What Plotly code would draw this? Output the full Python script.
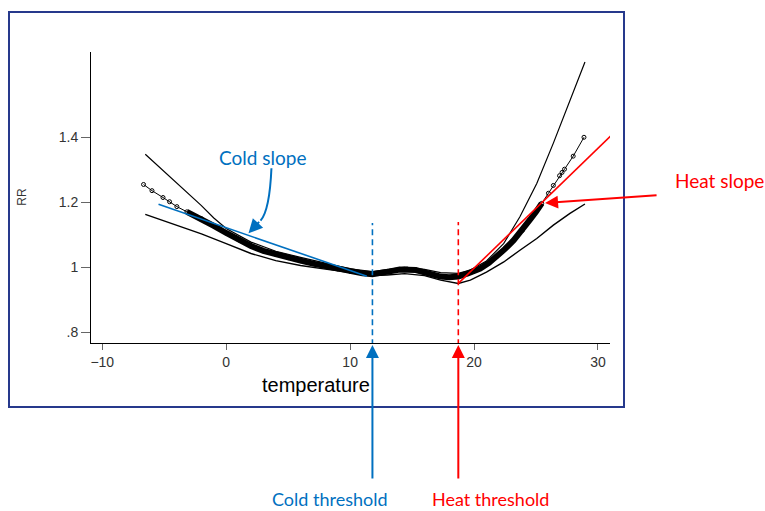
import plotly.graph_objects as go

# ---------------- data ----------------
central_t = [-6.67, -5.99, -5.1, -4.57, -3.98, -3.17, -2.0, -1.0, 0.0, 1.0, 2.0, 3.0, 4.0, 5.0, 6.0,
             7.0, 8.0, 9.0, 10.0, 11.0, 11.8, 12.5, 13.2, 14.0, 14.6, 15.3, 16.0, 16.7, 17.3, 18.0,
             18.73, 19.5, 20.5, 21.2, 21.8, 22.5, 23.2, 23.9, 24.5, 25.0, 25.46, 26.0, 26.4,
             26.9, 27.1, 27.3, 28.0, 28.87]
central_rr = [1.255, 1.236, 1.215, 1.202, 1.187, 1.171, 1.150, 1.128, 1.106, 1.085, 1.066, 1.051, 1.040,
              1.030, 1.021, 1.012, 1.004, 0.996, 0.988, 0.982, 0.979, 0.982, 0.988, 0.994, 0.995,
              0.992, 0.985, 0.977, 0.972, 0.970, 0.972, 0.982, 0.997, 1.014, 1.033, 1.057, 1.084,
              1.114, 1.146, 1.171, 1.197, 1.228, 1.252, 1.282, 1.292, 1.302, 1.342, 1.400]

upper_t = [-6.53, -5.0, -3.5, -2.0, -1.0, 0.0, 2.0, 4.0, 6.0, 8.0, 10.0, 11.8, 13.0, 14.4, 16.0,
           17.3, 18.73, 19.7, 21.0, 22.4, 23.7, 25.06, 26.4, 27.74, 28.95]
upper_rr = [1.348, 1.295, 1.245, 1.190, 1.152, 1.120, 1.078, 1.050, 1.031, 1.013, 0.996, 0.987, 0.993,
            1.001, 0.994, 0.984, 0.982, 0.992, 1.020, 1.074, 1.156, 1.258, 1.382, 1.515, 1.631]

lower_t = [-6.53, -4.0, -2.0, 0.0, 2.0, 4.0, 6.0, 8.0, 10.0, 11.8, 13.0, 14.4, 16.0, 17.3, 18.73,
           19.7, 21.0, 22.4, 23.7, 25.06, 26.4, 27.74, 28.95]
lower_rr = [1.163, 1.130, 1.103, 1.073, 1.043, 1.021, 1.006, 0.995, 0.985, 0.975, 0.977, 0.981, 0.975,
            0.961, 0.951, 0.961, 0.986, 1.017, 1.053, 1.089, 1.130, 1.166, 1.195]

cold_slope_t = [-5.46, 11.35]
cold_slope_rr = [1.194, 0.973]
heat_slope_t = [18.73, 31.05]
heat_slope_rr = [0.951, 1.405]

cold_threshold = 11.8
heat_threshold = 18.73
threshold_line_top = [1.137, 1.140]

x_ticks = [-10, 0, 10, 20, 30]
y_ticks = [0.8, 1.0, 1.2, 1.4]
y_ticktext = [".8", "1", "1.2", "1.4"]

BLUE = "#0070C0"
RED = "#FF0000"
NAVY = "#26398C"

fig = go.Figure()

fig.add_trace(go.Scatter(x=upper_t, y=upper_rr, mode="lines",
                         line=dict(color="black", width=1.2), hoverinfo="skip"))
fig.add_trace(go.Scatter(x=lower_t, y=lower_rr, mode="lines",
                         line=dict(color="black", width=1.4), hoverinfo="skip"))
# thick band where observations are dense
i0 = central_t.index(-3.17)
i1 = central_t.index(25.46)
fig.add_trace(go.Scatter(x=central_t[i0:i1 + 1], y=central_rr[i0:i1 + 1], mode="lines",
                         line=dict(color="black", width=6), hoverinfo="skip"))
fig.add_trace(go.Scatter(x=central_t, y=central_rr, mode="lines+markers",
                         line=dict(color="black", width=1),
                         marker=dict(symbol="circle-open", size=4, color="black",
                                     line=dict(width=1, color="black")),
                         hoverinfo="skip"))
fig.add_trace(go.Scatter(x=cold_slope_t, y=cold_slope_rr, mode="lines",
                         line=dict(color=BLUE, width=1.6), hoverinfo="skip"))
fig.add_trace(go.Scatter(x=heat_slope_t, y=heat_slope_rr, mode="lines",
                         line=dict(color=RED, width=1.6), hoverinfo="skip"))

ML, MR, MT, MB = 91, 155, 52, 168
W, H = 765, 511
PW = W - ML - MR
PH = H - MT - MB


def px(xp):
    return (xp - ML) / PW


def py(yp):
    return (H - MB - yp) / PH


shapes = [
    dict(type="rect", xref="paper", yref="paper", x0=px(9), x1=px(624), y0=py(407), y1=py(12),
         line=dict(color=NAVY, width=2), layer="below"),
    dict(type="line", xref="x", yref="y", x0=cold_threshold, x1=cold_threshold,
         y0=0.70, y1=threshold_line_top[0], line=dict(color=BLUE, width=1.6, dash="6px,4px")),
    dict(type="line", xref="x", yref="y", x0=heat_threshold, x1=heat_threshold,
         y0=0.70, y1=threshold_line_top[1], line=dict(color=RED, width=1.6, dash="6px,4px")),
    dict(type="path", xref="x", yref="y", path="M 3.65,1.305 Q 3.5,1.175 2.77,1.144",
         line=dict(color=BLUE, width=2)),
]

TXT = "Lato"
annotations = [
    dict(text="temperature", xref="paper", yref="paper", x=px(316), y=py(385), showarrow=False,
         font=dict(family="Liberation Sans", size=20, color="black"), xanchor="center", yanchor="middle"),
    dict(text="RR", xref="paper", yref="paper", x=px(21.7), y=py(197), showarrow=False, textangle=-90,
         font=dict(family="Liberation Sans", size=12, color="#333333"), xanchor="center", yanchor="middle"),
    dict(text="Cold slope", xref="paper", yref="paper", x=px(262), y=py(157), showarrow=False,
         font=dict(family=TXT, size=19, color=BLUE), xanchor="center", yanchor="middle"),
    dict(text="Heat slope", xref="paper", yref="paper", x=px(719), y=py(180), showarrow=False,
         font=dict(family=TXT, size=19, color=RED), xanchor="center", yanchor="middle"),
    dict(text="Cold threshold", xref="paper", yref="paper", x=px(330), y=py(499), showarrow=False,
         font=dict(family=TXT, size=18, color=BLUE), xanchor="center", yanchor="middle"),
    dict(text="Heat threshold", xref="paper", yref="paper", x=px(490), y=py(499), showarrow=False,
         font=dict(family=TXT, size=18, color=RED), xanchor="center", yanchor="middle"),
    # arrows
    dict(text="", xref="x", yref="paper", x=cold_threshold, y=py(345), ax=0, ay=135,
         showarrow=True, arrowhead=2, arrowsize=1.3, arrowwidth=2, arrowcolor=BLUE, standoff=0),
    dict(text="", xref="x", yref="paper", x=heat_threshold, y=py(345), ax=0, ay=135,
         showarrow=True, arrowhead=2, arrowsize=1.3, arrowwidth=2, arrowcolor=RED, standoff=0),
    dict(text="", xref="x", yref="y", x=25.73, y=1.198, ax=113, ay=-8,
         showarrow=True, arrowhead=2, arrowsize=1.3, arrowwidth=2, arrowcolor=RED, standoff=0),
    dict(text="", xref="x", yref="y", x=1.8, y=1.105, ax=12, ay=-13,
         showarrow=True, arrowhead=2, arrowsize=1.4, arrowwidth=2, arrowcolor=BLUE, standoff=0),
]

fig.update_layout(
    width=W, height=H,
    margin=dict(l=ML, r=MR, t=MT, b=MB, pad=0),
    paper_bgcolor="white", plot_bgcolor="white",
    showlegend=False,
    shapes=shapes,
    annotations=annotations,
    xaxis=dict(range=[-10.91, 30.97], tickvals=x_ticks, showgrid=False, zeroline=False,
               showline=True, linecolor="black", linewidth=1, ticks="outside", ticklen=6,
               tickcolor="#666666", tickwidth=1,
               tickfont=dict(family="Liberation Sans", size=14, color="#333333")),
    yaxis=dict(range=[0.768, 1.662], tickvals=y_ticks, ticktext=y_ticktext, showgrid=False,
               zeroline=False, showline=True, linecolor="black", linewidth=1, ticks="outside",
               ticklen=9, tickcolor="#666666", tickwidth=1,
               tickfont=dict(family="Liberation Sans", size=14, color="#333333")),
)

fig.write_html("out.html", config={"displayModeBar": False},
               post_script="document.body.style.margin='0';document.body.style.overflow='hidden';")
